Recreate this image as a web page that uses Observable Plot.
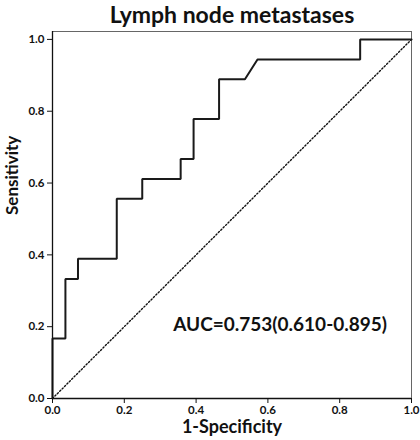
<!DOCTYPE html>
<html>
<head>
<meta charset="utf-8">
<script src="https://cdn.jsdelivr.net/npm/d3@7"></script>
<script src="https://cdn.jsdelivr.net/npm/@observablehq/plot@0.6"></script>
<style>
  html, body { margin: 0; padding: 0; background: #fff; }
  svg text { font-weight: bold; }
</style>
</head>
<body>
<div id="chart"></div>
<script>
const fpr = [0, 0, 0.036, 0.036, 0.071, 0.071, 0.179, 0.179, 0.25, 0.25, 0.357, 0.357, 0.393, 0.393, 0.464, 0.464, 0.536, 0.571, 0.857, 0.857, 1];
const tpr = [0, 0.167, 0.167, 0.333, 0.333, 0.389, 0.389, 0.556, 0.556, 0.611, 0.611, 0.667, 0.667, 0.778, 0.778, 0.889, 0.889, 0.944, 0.944, 1, 1];
const refX = [0, 1];
const refY = [0, 1];
const tickValues = [0, 0.2, 0.4, 0.6, 0.8, 1.0];
const titleText = "Lymph node metastases";
const xLabel = "1-Specificity";
const yLabel = "Sensitivity";
const aucText = "AUC=0.753(0.610-0.895)";
const aucPos = {x: 0.634, y: 0.206};

const curve = fpr.map((x, i) => ({x, y: tpr[i]}));
const diag = refX.map((x, i) => ({x, y: refY[i]}));

const chart = Plot.plot({
  width: 420,
  height: 440,
  marginLeft: 52,
  marginRight: 9,
  marginTop: 31,
  marginBottom: 42,
  style: {fontFamily: "Lato, 'Open Sans', sans-serif", fontSize: "11px", color: "#111", background: "#fff"},
  x: {domain: [0, 1]},
  y: {domain: [0, 1.022]},
  marks: [
    Plot.frame({stroke: "#666", strokeWidth: 1}),
    Plot.line(diag, {x: "x", y: "y", stroke: "#111", strokeWidth: 1.4, strokeDasharray: "1.4,2"}),
    Plot.line(curve, {x: "x", y: "y", stroke: "#1a1a1a", strokeWidth: 2, strokeLinejoin: "miter"}),
    Plot.ruleX([0], {stroke: "#111", strokeWidth: 1.3}),
    Plot.ruleY([0], {stroke: "#111", strokeWidth: 1.3}),
    Plot.axisX({ticks: tickValues, tickFormat: d3.format(".1f"), tickSize: 5, tickPadding: 2, label: null, fontSize: 11.5, fontWeight: "bold"}),
    Plot.axisY({ticks: tickValues, tickFormat: d3.format(".1f"), tickSize: 5, tickPadding: 3, label: null, fontSize: 11.5, fontWeight: "bold"}),
    Plot.text([titleText], {frameAnchor: "top", lineAnchor: "middle", dy: -16, fontSize: 23, fontWeight: "bold", fill: "#111", text: d => d}),
    Plot.text([xLabel], {frameAnchor: "bottom", lineAnchor: "middle", dy: 29, fontSize: 18, fontWeight: "bold", fill: "#111", text: d => d}),
    Plot.text([yLabel], {frameAnchor: "left", lineAnchor: "middle", dx: -40, rotate: -90, fontSize: 17, fontWeight: "bold", fill: "#111", text: d => d}),
    Plot.text([aucText], {x: aucPos.x, y: aucPos.y, lineAnchor: "middle", fontSize: 19, fontWeight: "bold", fill: "#111", text: d => d})
  ]
});
document.getElementById("chart").appendChild(chart);
</script>
</body>
</html>
